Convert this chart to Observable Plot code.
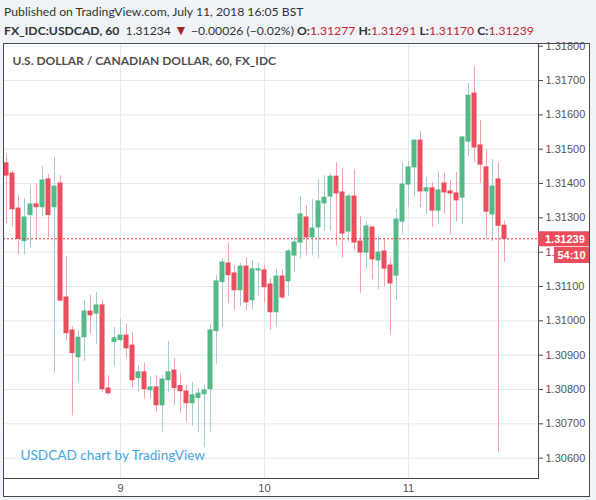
<!DOCTYPE html>
<html><head><meta charset="utf-8">
<script src="https://cdn.jsdelivr.net/npm/d3@7"></script>
<script src="https://cdn.jsdelivr.net/npm/@observablehq/plot@0.6"></script>
<style>
html,body{margin:0;padding:0;background:#f0f3f7;width:596px;height:500px;overflow:hidden;font-family:Lato,"Open Sans",sans-serif;}
.hl{position:absolute;left:4px;font-size:12.2px;color:#333;line-height:18px;white-space:nowrap}
#h1{top:3px}
#h2{top:21px}
#h2 b{font-weight:700}
#h2 .r{color:#c0282d}
#h2 .t{color:#a52326;font-size:14px}
#card{position:absolute;left:3px;top:43px;width:587px;height:454px;background:#fff;border:1px solid #4a4a4a;box-sizing:border-box}
#chart{position:absolute;left:0;top:40px}
</style></head>
<body>
<div id="h1" class="hl">Published on TradingView.com, July 11, 2018 16:05 BST</div>
<div id="h2" class="hl"><b>FX_IDC:USDCAD, 60</b>&nbsp; 1.31234 <span class="t">▼</span> −0.00026 (−0.02%) <b>O:</b><span class="r">1.31277</span> <b>H:</b><span class="r">1.31291</span> <b>L:</b><span class="r">1.31170</span> <b>C:</b><span class="r">1.31239</span></div>
<div id="card"></div>
<div id="chart"></div>
<script>
// Hourly USD/CAD candles (index 0 = first bar shown)
const opens  = [1.31459,1.31429,1.31327,1.31232,1.31308,1.31339,1.31331,1.31412,1.31331,1.31400,
  1.31068,1.30972,1.30894,1.30952,1.31027,1.31021,1.31045,1.30803,1.30938,1.30944,
  1.30957,1.30928,1.30833,1.30850,1.30798,1.30806,1.30754,1.30827,1.30855,1.30810,
  1.30794,1.30760,1.30775,1.30786,1.30801,1.30970,1.31113,1.31167,1.31138,1.31089,
  1.31158,1.31060,1.31147,1.31147,1.31106,1.31025,1.31129,1.31115,1.31190,1.31228,
  1.31301,1.31243,1.31272,1.31342,1.31362,1.31420,1.31374,1.31260,1.31362,1.31231,
  1.31199,1.31272,1.31176,1.31202,1.31161,1.31132,1.31289,1.31397,1.31447,1.31525,
  1.31377,1.31386,1.31321,1.31400,1.31377,1.31371,1.31359,1.31522,1.31662,1.31511,
  1.31447,1.31310,1.31412,1.31277];
const highs  = [1.31485,1.31438,1.31365,1.31356,1.31391,1.31399,1.31450,1.31426,1.31476,1.31423,
  1.31187,1.30983,1.30972,1.31059,1.31074,1.31083,1.31062,1.30840,1.30981,1.31004,
  1.30991,1.30966,1.30870,1.30876,1.30835,1.30841,1.30841,1.30940,1.30890,1.30844,
  1.30812,1.30820,1.30803,1.30812,1.30989,1.31132,1.31181,1.31228,1.31161,1.31167,
  1.31182,1.31176,1.31167,1.31161,1.31123,1.31150,1.31150,1.31208,1.31243,1.31362,
  1.31336,1.31353,1.31412,1.31423,1.31429,1.31461,1.31444,1.31368,1.31441,1.31304,
  1.31289,1.31275,1.31246,1.31240,1.31182,1.31324,1.31461,1.31464,1.31528,1.31552,
  1.31418,1.31403,1.31435,1.31429,1.31409,1.31432,1.31537,1.31691,1.31741,1.31584,
  1.31499,1.31470,1.31461,1.31291];
const lows   = [1.31283,1.31273,1.31192,1.31192,1.31212,1.31239,1.31302,1.31243,1.30847,1.31056,
  1.30943,1.30723,1.30821,1.30882,1.30961,1.30932,1.30792,1.30783,1.30868,1.30937,
  1.30891,1.30804,1.30792,1.30772,1.30772,1.30734,1.30673,1.30792,1.30754,1.30731,
  1.30702,1.30693,1.30673,1.30632,1.30673,1.30874,1.30981,1.31051,1.31031,1.31043,
  1.31031,1.31031,1.31072,1.31051,1.30972,1.30981,1.31062,1.31071,1.31141,1.31182,
  1.31190,1.31190,1.31182,1.31260,1.31260,1.31219,1.31182,1.31231,1.31202,1.31080,
  1.31150,1.31120,1.31091,1.31100,1.30960,1.31059,1.31251,1.31330,1.31359,1.31330,
  1.31310,1.31272,1.31281,1.31310,1.31251,1.31289,1.31281,1.31479,1.31461,1.31400,
  1.31240,1.31231,1.30616,1.31170];
const closes = [1.31423,1.31325,1.31239,1.31301,1.31339,1.31331,1.31409,1.31308,1.31391,1.31059,
  1.30964,1.30906,1.30951,1.31027,1.31016,1.31045,1.30801,1.30789,1.30949,1.30957,
  1.30920,1.30827,1.30850,1.30801,1.30806,1.30754,1.30829,1.30850,1.30804,1.30795,
  1.30760,1.30783,1.30788,1.30797,1.30972,1.31115,1.31170,1.31133,1.31089,1.31158,
  1.31054,1.31150,1.31150,1.31098,1.31025,1.31129,1.31068,1.31202,1.31228,1.31310,
  1.31243,1.31269,1.31348,1.31359,1.31420,1.31371,1.31254,1.31362,1.31228,1.31199,
  1.31275,1.31179,1.31199,1.31152,1.31109,1.31295,1.31397,1.31447,1.31525,1.31377,
  1.31386,1.31321,1.31380,1.31374,1.31371,1.31351,1.31534,1.31656,1.31505,1.31455,
  1.31318,1.31391,1.31277,1.31239];
const priceTicks = [1.306,1.307,1.308,1.309,1.310,1.311,1.312,1.313,1.314,1.315,1.316,1.317,1.318];
const dayBars   = [19, 43, 67];
const dayLabels = ["9", "10", "11"];
const lastPrice = 1.31239;
const timer = "54:10";

const candles = opens.map((o, i) => ({i, o, h: highs[i], l: lows[i], c: closes[i]}));
const isUp = d => d.c >= d.o;

const plot = Plot.plot({
  width: 596, height: 460,
  marginTop: 3, marginBottom: 22, marginLeft: 3, marginRight: 58,
  style: {fontFamily: "'Liberation Sans', Arial, sans-serif", fontSize: "11px", background: "transparent", overflow: "visible"},
  x: {domain: [-0.5, 88.6667], axis: null, label: null},
  y: {domain: [1.305407, 1.318079], axis: null, label: null},
  color: {type: "identity"},
  marks: [
    Plot.ruleY(priceTicks, {stroke: "#e1eaf0", strokeWidth: 1}),
    Plot.ruleX(dayBars, {stroke: "#e1eaf0", strokeWidth: 1}),
    Plot.text(["U.S. DOLLAR / CANADIAN DOLLAR, 60, FX_IDC"], {frameAnchor: "top-left", dx: 9, dy: 18, lineAnchor: "middle", textAnchor: "start", fill: "#4f4f4f", fontSize: 12, fontWeight: 700, fontFamily: "Lato, sans-serif"}),
    Plot.text(["USDCAD chart by TradingView"], {frameAnchor: "bottom-left", dx: 17, dy: -23, lineAnchor: "middle", textAnchor: "start", fill: "#48a7e2", fontSize: 13.6, fontFamily: "Lato, sans-serif"}),
    Plot.ruleX(candles, {x: "i", y1: "l", y2: "h", stroke: d => isUp(d) ? "#a3ccd2" : "#f6a3ab", strokeWidth: 1}),
    Plot.rect(candles, {x1: d => d.i - 0.4167, x2: d => d.i + 0.4167, y1: "o", y2: "c", fill: d => isUp(d) ? "#53b987" : "#eb4d5c", insetTop: -0.5, insetBottom: -0.5}),
    Plot.ruleY([lastPrice], {stroke: "#e8323c", strokeWidth: 1, strokeDasharray: "2,2"}),
    Plot.frame({stroke: "#4a4a4a"}),
    Plot.axisY({ticks: priceTicks, anchor: "right", label: null, tickFormat: d => d.toFixed(5), tickSize: 4, tickPadding: 3, stroke: "#4a4a4a", fill: "#555", fontSize: 11}),
    Plot.axisX({ticks: dayBars, anchor: "bottom", label: null, tickFormat: d => dayLabels[dayBars.indexOf(d)], tickSize: 0, tickPadding: 6, fill: "#555", fontSize: 11})
  ]
});
document.getElementById("chart").appendChild(plot);

// last price and countdown tags on the price axis, placed via the plot's y scale
const ys = plot.scale("y");
const yy = ys.apply(lastPrice);
const svg = d3.select(plot);
const g = svg.append("g").attr("font-family", "'Liberation Sans', Arial, sans-serif").attr("font-size", 11).attr("font-weight", "bold").attr("text-anchor", "start");
g.append("rect").attr("x", 538).attr("y", yy - 7).attr("width", 51).attr("height", 15).attr("fill", "#eb4d5c");
g.append("text").attr("x", 545).attr("y", yy + 0.5).attr("dy", "0.35em").attr("fill", "#fff").text(lastPrice.toFixed(5));
g.append("rect").attr("x", 554).attr("y", yy + 8.7).attr("width", 35).attr("height", 16).attr("fill", "#eb4d5c");
g.append("text").attr("x", 571.5).attr("y", yy + 16.7).attr("dy", "0.35em").attr("text-anchor", "middle").attr("fill", "#fff").text(timer);
</script>
</body></html>
